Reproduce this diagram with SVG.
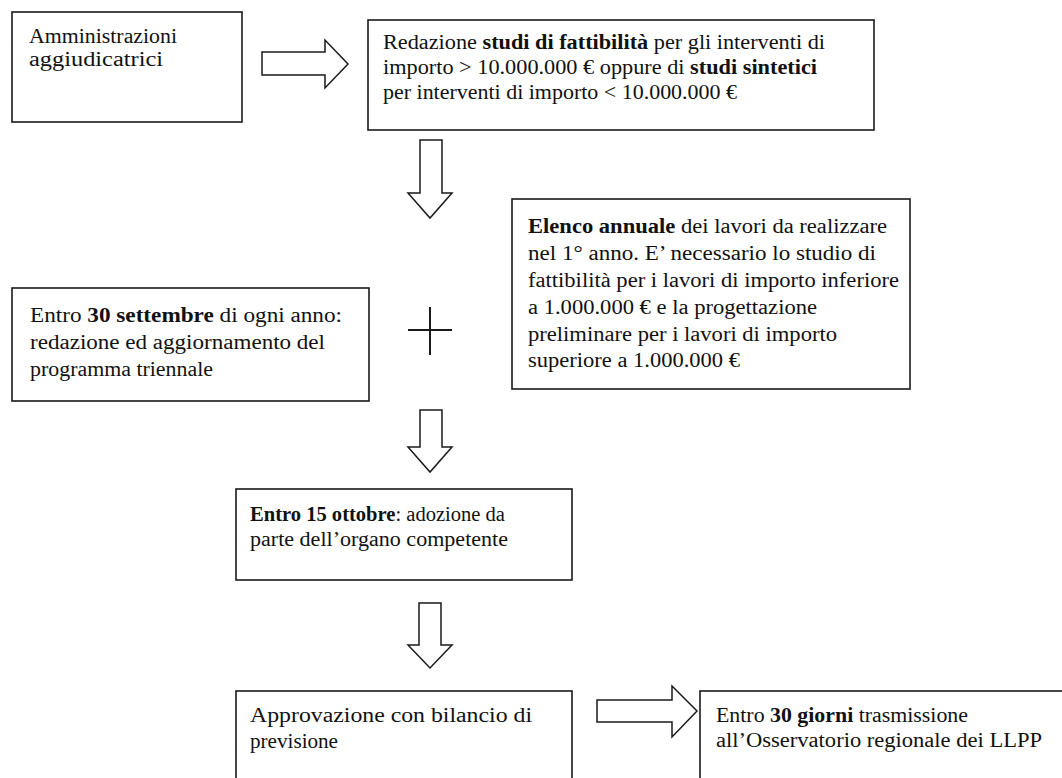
<svg xmlns="http://www.w3.org/2000/svg" width="1062" height="778" viewBox="0 0 1062 778">
<style>
.box{fill:#fff;stroke:#1a1a1a;stroke-width:1.6}
.arr{fill:#fff;stroke:#1a1a1a;stroke-width:1.5;stroke-linejoin:miter}
.plus{stroke:#1a1a1a;stroke-width:2}
text{font-family:"Liberation Serif","Times New Roman",serif;font-size:20px;fill:#111}
.b{font-weight:bold}
</style>
<rect width="1062" height="778" fill="#fff"/>
<g id="n1"><rect class="box" x="12" y="12" width="230" height="110"/>
<text x="29" y="43" textLength="148" lengthAdjust="spacingAndGlyphs">Amministrazioni</text>
<text x="29" y="66" textLength="134" lengthAdjust="spacingAndGlyphs">aggiudicatrici</text></g>
<g id="n2"><rect class="box" x="368" y="20" width="506" height="110"/>
<text x="383" y="49" textLength="442" lengthAdjust="spacingAndGlyphs">Redazione <tspan class="b">studi di fattibilità</tspan> per gli interventi di</text>
<text x="383" y="74" textLength="434" lengthAdjust="spacingAndGlyphs">importo &gt; 10.000.000 € oppure di <tspan class="b">studi sintetici</tspan></text>
<text x="383" y="99" textLength="354" lengthAdjust="spacingAndGlyphs">per interventi di importo &lt; 10.000.000 €</text></g>
<g id="n3"><rect class="box" x="512" y="199" width="398" height="190"/>
<text x="528" y="233" textLength="359" lengthAdjust="spacingAndGlyphs"><tspan class="b">Elenco annuale</tspan> dei lavori da realizzare</text>
<text x="528" y="260" textLength="348" lengthAdjust="spacingAndGlyphs">nel 1° anno. E’ necessario lo studio di</text>
<text x="528" y="287" textLength="371" lengthAdjust="spacingAndGlyphs">fattibilità per i lavori di importo inferiore</text>
<text x="528" y="314" textLength="289" lengthAdjust="spacingAndGlyphs">a 1.000.000 €  e la progettazione</text>
<text x="528" y="341" textLength="309" lengthAdjust="spacingAndGlyphs">preliminare per i lavori di importo</text>
<text x="528" y="367" textLength="212" lengthAdjust="spacingAndGlyphs">superiore a 1.000.000 €</text></g>
<g id="n4"><rect class="box" x="12" y="288" width="357" height="113"/>
<text x="30" y="322" textLength="312" lengthAdjust="spacingAndGlyphs">Entro <tspan class="b">30 settembre</tspan> di ogni anno:</text>
<text x="30" y="349" textLength="295" lengthAdjust="spacingAndGlyphs">redazione ed aggiornamento del</text>
<text x="30" y="376" textLength="183" lengthAdjust="spacingAndGlyphs">programma triennale</text></g>
<g id="n5"><rect class="box" x="236" y="489" width="336" height="91"/>
<text x="250" y="521" textLength="255" lengthAdjust="spacingAndGlyphs"><tspan class="b">Entro 15 ottobre</tspan>: adozione da</text>
<text x="250" y="546" textLength="258" lengthAdjust="spacingAndGlyphs">parte dell’organo competente</text></g>
<g id="n6"><rect class="box" x="236" y="691" width="336" height="100"/>
<text x="250" y="722" textLength="282" lengthAdjust="spacingAndGlyphs">Approvazione  con bilancio di</text>
<text x="250" y="748" textLength="88" lengthAdjust="spacingAndGlyphs">previsione</text></g>
<g id="n7"><rect class="box" x="700" y="691" width="400" height="100"/>
<text x="716" y="722" textLength="252" lengthAdjust="spacingAndGlyphs">Entro <tspan class="b">30 giorni</tspan> trasmissione</text>
<text x="716" y="747" textLength="326" lengthAdjust="spacingAndGlyphs">all’Osservatorio regionale dei LLPP</text></g>
<g id="connectors">
<polygon class="arr" points="262,52 325,52 325,40 348,64 325,88 325,75 262,75"/>
<polygon class="arr" points="420,140 442,140 442,193 452,193 430,218 408,193 420,193"/>
<line class="plus" x1="408" y1="330" x2="452" y2="330"/>
<line class="plus" x1="430" y1="307" x2="430" y2="355"/>
<polygon class="arr" points="420,410 442,410 442,447 452,447 430,472 408,447 420,447"/>
<polygon class="arr" points="419,603 441,603 441,645 452,645 430,668 408,645 419,645"/>
<polygon class="arr" points="597,700 672,700 672,686 697,711 672,737 672,722 597,722"/>
</g>
</svg>
